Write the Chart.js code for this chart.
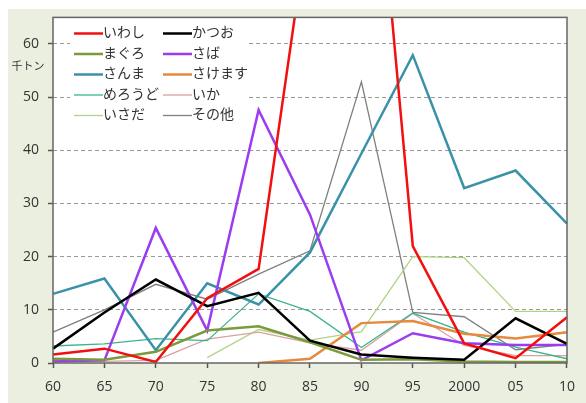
<!DOCTYPE html>
<html>
<head>
<meta charset="utf-8">
<script src="https://cdn.jsdelivr.net/npm/chart.js@4"></script>
<style>
  html, body { margin: 0; padding: 0; background: #fff; overflow: hidden; }
  #grafico { display: block; }
</style>
</head>
<body>
<canvas id="grafico" width="586" height="403"></canvas>
<script>
// 年 (x軸)
const years = ['60', '65', '70', '75', '80', '85', '90', '95', '2000', '05', '10'];
const yTicks = [0, 10, 20, 30, 40, 50, 60];

// 魚種別漁獲量 (千トン)
const iwashi = [1.6, 2.7, 0.2, 12.2, 17.7, 85, 128, 22.0, 3.7, 0.9, 8.6];
const katsuo = [2.7, 9.5, 15.7, 10.7, 13.2, 4.2, 1.6, 1.0, 0.6, 8.4, 3.6];
const maguro = [0.8, 0.6, 2.1, 6.1, 6.9, 3.9, 0.6, 0.7, 0.3, 0.2, 0.2];
const saba = [0.3, 0.5, 25.4, 6.1, 47.6, 27.9, 0.5, 5.6, 3.7, 3.4, 3.4];
const sanma = [13.0, 15.9, 2.4, 15.0, 11.0, 20.8, 39.4, 57.9, 32.9, 36.2, 26.2];
const sakemasu = [null, null, null, null, 0, 0.8, 7.5, 7.9, 5.5, 4.6, 5.8];
const meroudo = [3.2, 3.6, 4.6, 4.2, 13.0, 9.7, 2.9, 9.4, 5.8, 3.0, 0.8];
const ika = [0.5, 0.3, 0.5, 4.5, 5.8, 3.8, 2.4, 9.3, 3.3, 1.4, 1.4];
const isada = [null, null, null, 1.0, 6.3, 4.3, 5.9, 20.0, 19.8, 9.7, 9.7];
const sonota = [5.8, 10.0, 14.8, 12.0, 16.7, 21.1, 52.9, 9.5, 8.7, 2.5, 3.5];

const fonte = '"Open Sans", "Noto Sans CJK JP", sans-serif';

function serie(label, data, color, width) {
  return {
    label: label,
    data: data,
    borderColor: color,
    backgroundColor: color,
    borderWidth: width,
    pointRadius: 0,
    tension: 0,
    spanGaps: false,
  };
}

// 背景・枠・凡例・単位
const decoracao = {
  id: 'decoracao',
  beforeDraw(chart) {
    const c = chart.ctx;
    const a = chart.chartArea;
    c.save();
    c.fillStyle = '#ffffff';
    c.fillRect(0, 0, chart.width, chart.height);
    c.fillStyle = '#ebefdf';
    c.fillRect(8, 9, chart.width - 8, chart.height - 9);
    c.fillStyle = '#ffffff';
    c.fillRect(a.left, a.top, a.right - a.left, a.bottom - a.top);
    c.restore();
  },
  afterDatasetsDraw(chart) {
    const c = chart.ctx;
    const a = chart.chartArea;
    c.save();
    // 凡例
    c.fillStyle = '#ffffff';
    c.fillRect(70, 22, 178, 104);
    c.font = '14px ' + fonte;
    c.textBaseline = 'middle';
    chart.data.datasets.forEach((ds, i) => {
      const col = i % 2;
      const row = Math.floor(i / 2);
      const x = col === 0 ? 74 : 163;
      const y = 33.5 + row * 20.5;
      c.strokeStyle = ds.borderColor;
      c.lineWidth = ds.borderWidth;
      c.beginPath();
      c.moveTo(x, y);
      c.lineTo(x + 29, y);
      c.stroke();
      c.fillStyle = '#333333';
      c.fillText(ds.label, x + 29, y);
    });
    // 単位
    c.font = '11px ' + fonte;
    c.textAlign = 'center';
    c.fillStyle = '#333333';
    c.fillText('千トン', 28, 67);
    // 枠
    c.strokeStyle = '#666666';
    c.lineWidth = 1.5;
    c.strokeRect(a.left, a.top, a.right - a.left, a.bottom - a.top);
    c.restore();
  },
};

document.addEventListener('DOMContentLoaded', function () {
  const ctx = document.getElementById('grafico').getContext('2d');
  new Chart(ctx, {
    type: 'line',
    data: {
      labels: years,
      datasets: [
        serie('いわし', iwashi, '#f20f0f', 2.5),
        serie('かつお', katsuo, '#000000', 2.5),
        serie('まぐろ', maguro, '#7a9a3c', 2.5),
        serie('さば', saba, '#9b3cf0', 2.5),
        serie('さんま', sanma, '#3a92a8', 2.5),
        serie('さけます', sakemasu, '#e58a3e', 2.5),
        serie('めろうど', meroudo, '#3cb48c', 1.3),
        serie('いか', ika, '#d9a0a0', 1.3),
        serie('いさだ', isada, '#aed585', 1.3),
        serie('その他', sonota, '#808080', 1.3),
      ],
    },
    options: {
      responsive: false,
      animation: false,
      devicePixelRatio: 1,
      layout: { padding: { top: 15, right: 13, left: 0, bottom: 0 } },
      plugins: {
        legend: { display: false },
        tooltip: { enabled: false },
      },
      scales: {
        x: {
          offset: false,
          afterFit: (s) => { s.height = 40; },
          ticks: {
            color: '#333333',
            font: { family: fonte, size: 14 },
            padding: 11,
            maxRotation: 0,
            autoSkip: false,
          },
          grid: {
            drawOnChartArea: false,
            drawTicks: true,
            tickLength: 5,
            tickColor: '#555555',
            tickWidth: 1.5,
          },
          border: { display: false },
        },
        y: {
          min: 0,
          max: 65,
          afterFit: (s) => { s.width = 53; },
          afterBuildTicks: (s) => {
            s.ticks = yTicks.map((v) => ({ value: v }));
          },
          ticks: {
            color: '#333333',
            font: { family: fonte, size: 14 },
            padding: 9,
            autoSkip: false,
          },
          grid: {
            color: (c) => (c.tick && c.tick.value === 0 ? 'rgba(0,0,0,0)' : '#999999'),
            lineWidth: 1,
            drawTicks: true,
            tickLength: 5,
            tickColor: '#555555',
            tickWidth: 1.5,
            tickBorderDash: [],
          },
          border: { display: false, dash: [4, 3] },
        },
      },
    },
    plugins: [decoracao],
  });
});
</script>
</body>
</html>
